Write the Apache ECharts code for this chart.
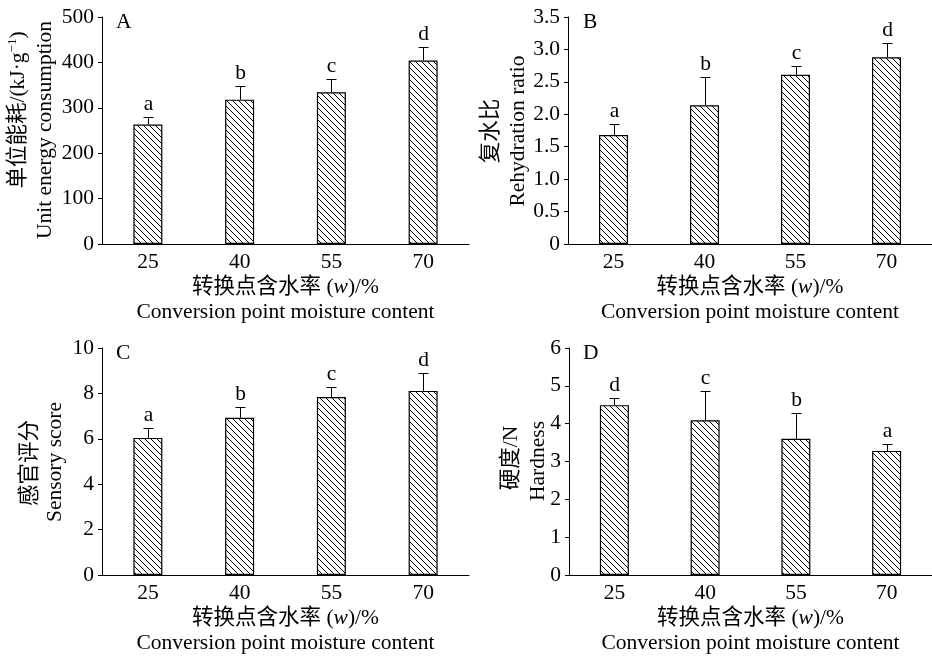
<!DOCTYPE html>
<html>
<head>
<meta charset="utf-8">
<script src="https://cdn.jsdelivr.net/npm/echarts@6/dist/echarts.min.js"></script>
<style>
html,body{margin:0;padding:0;background:#fff;}
#chart{width:932px;height:658px;}
</style>
</head>
<body>
<div id="chart"></div>
<script>
// ---- data ----
const categories = ['25', '40', '55', '70'];

const energy = [263, 318, 334, 404];
const energyErr = [17, 30, 29, 30];
const energyLetters = ['a', 'b', 'c', 'd'];

const rehydration = [1.68, 2.14, 2.61, 2.88];
const rehydrationErr = [0.17, 0.43, 0.13, 0.22];
const rehydrationLetters = ['a', 'b', 'c', 'd'];

const sensory = [6.04, 6.93, 7.84, 8.11];
const sensoryErr = [0.45, 0.46, 0.45, 0.81];
const sensoryLetters = ['a', 'b', 'c', 'd'];

const hardness = [4.49, 4.09, 3.60, 3.28];
const hardnessErr = [0.20, 0.78, 0.69, 0.18];
const hardnessLetters = ['d', 'c', 'b', 'a'];

// ---- styling ----
const FONT = "'Liberation Serif', 'Times New Roman', 'Noto Sans CJK SC', serif";
const FS = 21.5;

function hatch() {
  const s = 6;
  const c = document.createElement('canvas');
  c.width = s; c.height = s;
  const g = c.getContext('2d');
  g.fillStyle = '#fff';
  g.fillRect(0, 0, s, s);
  g.strokeStyle = '#000';
  g.lineWidth = 1;
  g.beginPath();
  g.moveTo(-1, -1); g.lineTo(s + 1, s + 1);
  g.moveTo(-1 - s, -1); g.lineTo(1, s + 1);
  g.moveTo(s - 1, -1); g.lineTo(2 * s + 1, s + 1);
  g.stroke();
  return c;
}
const pattern = { image: hatch(), repeat: 'repeat' };

const panels = [
  { left: 102, top: 17, max: 500, interval: 100, vals: energy, err: energyErr, letters: energyLetters,
    fmt: v => String(v) },
  { left: 568, top: 17, max: 3.5, interval: 0.5, vals: rehydration, err: rehydrationErr, letters: rehydrationLetters,
    fmt: v => (v === 0 ? '0' : v.toFixed(1)) },
  { left: 102, top: 348, max: 10, interval: 2, vals: sensory, err: sensoryErr, letters: sensoryLetters,
    fmt: v => String(v) },
  { left: 569, top: 348, max: 6, interval: 1, vals: hardness, err: hardnessErr, letters: hardnessLetters,
    fmt: v => String(v) }
];

const grid = [], xAxis = [], yAxis = [], series = [];
panels.forEach((p, i) => {
  grid.push({ left: p.left, top: p.top, width: 367, height: 227, containLabel: false });
  xAxis.push({
    type: 'category', gridIndex: i, data: categories,
    axisLine: { lineStyle: { color: '#000', width: 1 } },
    axisTick: { show: false },
    axisLabel: { color: '#000', fontFamily: FONT, fontSize: FS, margin: 8 },
    name: '转换点含水率 ({i|w})/%\nConversion point moisture content',
    nameLocation: 'middle', nameGap: 29,
    nameTextStyle: {
      color: '#000', fontFamily: FONT, fontSize: FS, lineHeight: 25, verticalAlign: 'top',
      rich: { i: { fontStyle: 'italic', fontFamily: FONT, fontSize: FS, color: '#000' } }
    }
  });
  yAxis.push({
    type: 'value', gridIndex: i, min: 0, max: p.max, interval: p.interval,
    axisLine: { show: true, lineStyle: { color: '#000', width: 1 } },
    axisTick: { show: true, inside: false, length: 4, lineStyle: { color: '#000' } },
    splitLine: { show: false },
    axisLabel: { color: '#000', fontFamily: FONT, fontSize: FS, margin: 8, formatter: p.fmt }
  });
  series.push({
    type: 'bar', xAxisIndex: i, yAxisIndex: i, data: p.vals, barWidth: 29,
    itemStyle: { color: pattern, borderColor: '#000', borderWidth: 1.2 },
    silent: true, animation: false
  });
  const letters = p.letters;
  series.push({
    type: 'custom', xAxisIndex: i, yAxisIndex: i, animation: false, silent: true, z: 5,
    data: p.vals.map((v, k) => [k, v, v + p.err[k]]),
    renderItem: function (params, api) {
      const k = api.value(0);
      const a = api.coord([k, api.value(1)]);
      const b = api.coord([k, api.value(2)]);
      const x = Math.round(a[0]) + 0.5;
      const yt = Math.round(b[1]) + 0.5;
      return {
        type: 'group',
        children: [
          { type: 'line', shape: { x1: x, y1: a[1], x2: x, y2: yt }, style: { stroke: '#000', lineWidth: 1 } },
          { type: 'line', shape: { x1: x - 5, y1: yt, x2: x + 5, y2: yt }, style: { stroke: '#000', lineWidth: 1 } },
          { type: 'text', x: x, y: yt - 2,
            style: { text: letters[params.dataIndex], textAlign: 'center', textVerticalAlign: 'bottom',
                     fill: '#000', font: FS + 'px ' + FONT } }
        ]
      };
    }
  });
});

function vtext(x, y, text, rich) {
  return {
    type: 'text', x: x, y: y, rotation: Math.PI / 2,
    style: { text: text, fill: '#000', font: FS + 'px ' + FONT, textAlign: 'center', textVerticalAlign: 'middle', rich: rich || {} }
  };
}
function ptext(x, y, t) {
  return { type: 'text', x: x, y: y, style: { text: t, fill: '#000', font: FS + 'px ' + FONT, textAlign: 'left', textVerticalAlign: 'middle' } };
}
const supRich = { s: { fontSize: 13, fontFamily: FONT, fill: '#000', padding: [0, 0, 10, 0] } };

const graphic = [
  ptext(116, 22, 'A'), ptext(583, 22, 'B'), ptext(116, 353, 'C'), ptext(583, 353, 'D'),
  vtext(18, 110, '单位能耗/(kJ·g{s|−1})', supRich),
  vtext(45, 130, 'Unit energy consumption'),
  vtext(491, 131, '复水比'),
  vtext(518, 131, 'Rehydration ratio'),
  vtext(30, 463, '感官评分'),
  vtext(55, 462, 'Sensory score'),
  vtext(511, 458, '硬度/N'),
  vtext(538, 461, 'Hardness')
];

const chart = echarts.init(document.getElementById('chart'), null, { renderer: 'canvas' });
chart.setOption({
  backgroundColor: '#fff',
  animation: false,
  grid: grid, xAxis: xAxis, yAxis: yAxis, series: series,
  graphic: graphic
});
</script>
</body>
</html>
